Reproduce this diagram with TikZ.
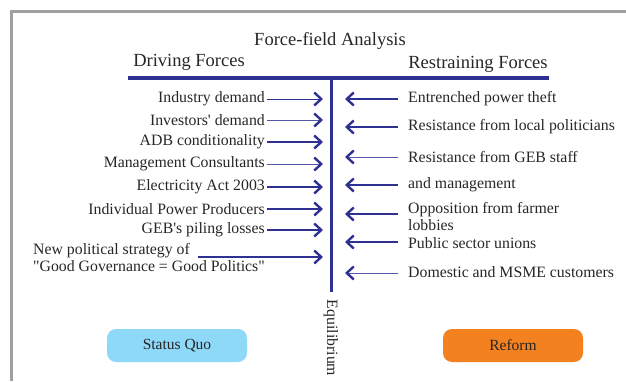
\documentclass[tikz,border=0pt]{standalone}
\usepackage{fontspec}
\setmainfont{Liberation Serif}[Ligatures=TeXOff]
\usetikzlibrary{arrows.meta}
\definecolor{navy}{HTML}{2E3192}
\definecolor{navylight}{HTML}{5558A8}
\definecolor{skyfill}{HTML}{8ED8F8}
\definecolor{orangefill}{HTML}{F48120}
\definecolor{framegray}{HTML}{A0A0A2}
\tikzset{
  force/.style={font=\fontsize{15.8}{17.5}\selectfont, inner sep=0pt, text=black!85},
  lforce/.style={force, anchor=east},
  rforce/.style={force, anchor=west},
  heading/.style={font=\fontsize{18.5}{20}\selectfont, inner sep=0pt, text=black!85},
  push/.style={draw=navy, line width=1.5pt,
    -{Straight Barb[length=7pt,width=13pt,line width=2.4pt,color=navy]}},
  pushthin/.style={push, draw=navylight, line width=0.9pt},
  statebox/.style={rounded corners=9pt, minimum width=140pt, minimum height=33pt,
    inner sep=0pt, font=\fontsize{15.5}{16}\selectfont, text=black!85},
}
\begin{document}
\begin{tikzpicture}[x=1pt,y=-1pt]
\useasboundingbox (0,0) rectangle (626,381);
% frame edges
\draw[framegray, line width=2.6pt] (626,11.5) -- (11.5,11.5) -- (11.5,381);

% headings
\node[heading] (title) at (330,41) {Force-field Analysis};
\node[heading] (drive) at (189,62) {Driving Forces};
\node[heading] (restrain) at (478,64) {Restraining Forces};

% the T bar
\coordinate (barL) at (128,78);
\coordinate (barR) at (549,78);
\coordinate (barTop) at (331,78);
\coordinate (barBot) at (331,292);
\draw[navy, line width=4pt] (barL) -- (barR);
\draw[navy, line width=3pt] (barTop) -- (barBot);
\node[force, rotate=-90] (eq) at (331,338) {Equilibrium};

% driving forces
\node[lforce] (d1) at (265,99) {Industry demand};
\node[lforce] (d2) at (265,120) {Investors' demand};
\node[lforce] (d3) at (265,142) {ADB conditionality};
\node[lforce] (d4) at (265,164) {Management Consultants};
\node[lforce] (d5) at (265,187) {Electricity Act 2003};
\node[lforce] (d6) at (265,209) {Individual Power Producers};
\node[lforce] (d7) at (265,230) {GEB's piling losses};
\node[force, anchor=north west, align=left] (d8) at (33,243)
  {New political strategy of\\"Good Governance = Good Politics"};
\coordinate (d8s) at (198,257);

\foreach \i/\y in {1/99,2/120,3/142,4/164,5/187,6/209,7/230,8/257}
  \coordinate (dt\i) at (323,\y);

\draw[pushthin, draw=navy] (d1.east) ++(2,0) -- (dt1);
\draw[pushthin] (d2.east) ++(2,0) -- (dt2);
\draw[push] (d3.east) ++(2,0) -- (dt3);
\draw[pushthin] (d4.east) ++(2,0) -- (dt4);
\draw[push] (d5.east) ++(2,0) -- (dt5);
\draw[push] (d6.east) ++(2,0) -- (dt6);
\draw[push] (d7.east) ++(2,0) -- (dt7);
\draw[push, line width=2.4pt] (d8s) -- (dt8);

% restraining forces
\node[rforce] (r1) at (408,99) {Entrenched power theft};
\node[rforce] (r2) at (408,127) {Resistance from local politicians};
\node[rforce] (r3) at (408,157) {Resistance from GEB staff};
\node[rforce] (r4) at (408,185) {and management};
\node[rforce, align=left, anchor=north west] (r5) at (408,202) {Opposition from farmer\\lobbies};
\node[rforce] (r6) at (408,243) {Public sector unions};
\node[rforce] (r7) at (408,272) {Domestic and MSME customers};

\foreach \i/\y in {1/99,2/127,3/157,4/185,5/214,6/242,7/273}{
  \coordinate (rs\i) at (398,\y);
  \coordinate (rt\i) at (345,\y);
}
\draw[push] (rs1) -- (rt1);
\draw[push] (rs2) -- (rt2);
\draw[pushthin] (rs3) -- (rt3);
\draw[push] (rs4) -- (rt4);
\draw[push] (rs5) -- (rt5);
\draw[push] (rs6) -- (rt6);
\draw[pushthin] (rs7) -- (rt7);

% the two states
\node[statebox, fill=skyfill] (quo) at (177,345.5) {Status Quo};
\node[statebox, fill=orangefill] (reform) at (513,345.5) {Reform};
\end{tikzpicture}
\end{document}
